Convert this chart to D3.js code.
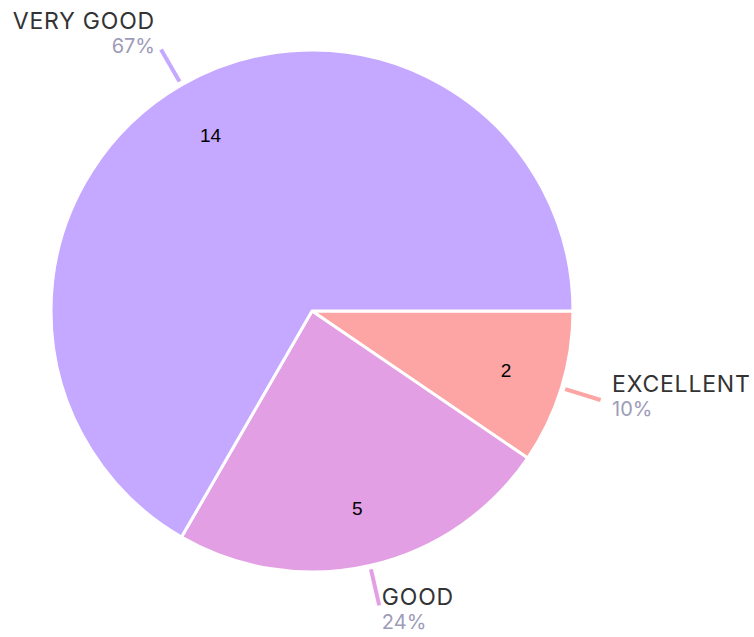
<!DOCTYPE html>
<html><head><meta charset="utf-8">
<script src="https://cdn.jsdelivr.net/npm/d3@7/dist/d3.min.js"></script>
<style>body{margin:0;background:#fff}</style>
</head><body>
<svg id="c" width="754" height="637"></svg>
<script>
const categories = ["EXCELLENT", "GOOD", "VERY GOOD"];
const values = [2, 5, 14];
const percentLabels = ["10%", "24%", "67%"];
const colors = ["#fda4a4", "#e39fe3", "#c5a8ff"];

const svg = d3.select("#c");
const cx = 312, cy = 311, R = 261;
const g = svg.append("g").attr("transform", `translate(${cx},${cy})`);

const data = categories.map((c, i) => ({cat: c, value: values[i], pct: percentLabels[i], color: colors[i]}));
const pie = d3.pie().value(d => d.value).sort(null)
  .startAngle(Math.PI / 2).endAngle(Math.PI / 2 + 2 * Math.PI);
const arcs = pie(data);
const arc = d3.arc().innerRadius(0).outerRadius(R);

g.selectAll("path.slice").data(arcs).join("path")
  .attr("class", "slice")
  .attr("d", arc)
  .attr("fill", d => d.data.color)
  .attr("stroke", "#fff")
  .attr("stroke-width", 3)
  .attr("stroke-linejoin", "round");

const labelArc = d3.arc().innerRadius(203).outerRadius(203);
g.selectAll("text.val").data(arcs).join("text")
  .attr("class", "val")
  .attr("x", d => labelArc.centroid(d)[0])
  .attr("y", d => labelArc.centroid(d)[1])
  .attr("text-anchor", "middle")
  .attr("dominant-baseline", "central")
  .attr("font-family", "Liberation Sans, Arial, sans-serif")
  .attr("font-size", 19)
  .attr("fill", "#000")
  .text(d => d.data.value);

function pt(d, r) {
  const a = (d.startAngle + d.endAngle) / 2;
  return [Math.sin(a) * r, -Math.cos(a) * r];
}

g.selectAll("line.lead").data(arcs).join("line")
  .attr("class", "lead")
  .attr("x1", d => pt(d, 265)[0]).attr("y1", d => pt(d, 265)[1])
  .attr("x2", d => pt(d, 302)[0]).attr("y2", d => pt(d, 302)[1])
  .attr("stroke", d => d.data.color)
  .attr("stroke-width", 4);

const lbl = g.selectAll("g.lbl").data(arcs).join("g").attr("class", "lbl")
  .attr("transform", d => {
    const [x, y] = pt(d, 302);
    const c = x / 302, s = y / 302;
    return `translate(${x + 12 * c},${y - 11 + 11 * s})`;
  });
lbl.append("text")
  .attr("text-anchor", d => pt(d, 1)[0] > 0 ? "start" : "end")
  .attr("font-family", "Inter, sans-serif")
  .attr("font-size", 23)
  .attr("letter-spacing", 0.8)
  .attr("fill", "#333")
  .text(d => d.data.cat);
lbl.append("text")
  .attr("y", 24)
  .attr("text-anchor", d => pt(d, 1)[0] > 0 ? "start" : "end")
  .attr("font-family", "Inter, sans-serif")
  .attr("font-size", 20)
  .attr("fill", "#9d9bb8")
  .text(d => d.data.pct);
</script>
</body></html>
